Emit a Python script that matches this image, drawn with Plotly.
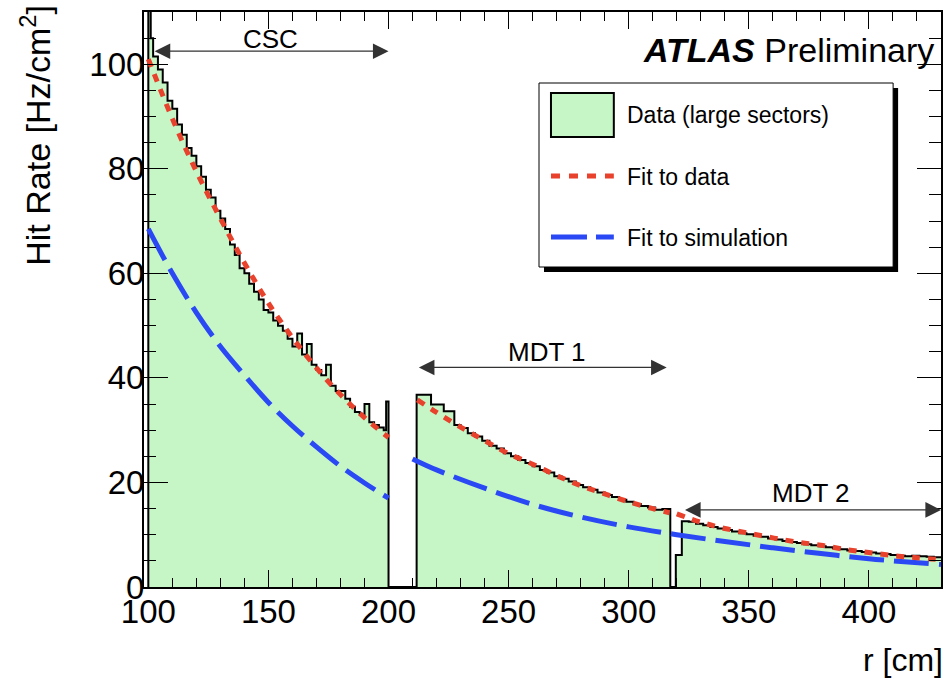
import plotly.graph_objects as go

# ---------------- data ----------------
# histogram: lower bin edges [cm] and hit rate [Hz/cm^2]
bin_lo = [100, 101, 102, 104, 106, 108, 110, 112, 114, 116, 118, 120, 122, 124, 126, 128,
          130, 132, 134, 136, 138, 140, 142, 144, 146, 148, 150, 152, 154, 156, 158, 160,
          162, 164, 166, 168, 170, 172, 174, 176, 178, 180, 182, 184, 186, 188, 190, 192,
          194, 196, 198, 199,
          200,
          211.7, 217.7, 223, 227.4, 230, 233, 236, 239, 242, 245, 248, 251, 254, 257, 260,
          263, 266, 269, 272, 275, 278, 281, 284, 287, 290, 293, 296, 299, 302, 305, 308,
          311, 314,
          317.3, 319.6,
          322.1, 325, 328, 331, 334, 337, 340, 343, 346, 349, 352, 355, 358, 361, 364, 367,
          370, 373, 376, 379, 382, 385, 388, 391, 394, 397, 400, 403, 406, 409, 412, 415,
          418, 421, 424, 427]
hit_rate = [112, 105, 101.5, 99.0, 96.5, 93.0, 91.5, 88.5, 86.5, 84.0, 82.5, 80.5, 78.5, 76.0,
            74.5, 72.0, 70.5, 68.5, 65.5, 63.5, 61.0, 60.0, 58.0, 56.5, 55.0, 53.0, 52.5, 51.0,
            50.0, 49.0, 47.5, 46.0, 48.5, 44.5, 46.5, 42.5, 41.5, 40.5, 42.5, 38.5, 37.5, 37.5,
            36.0, 34.5, 33.5, 33.0, 35.0, 31.5, 31.0, 30.5, 30.0, 35.5,
            0,
            36.8, 34.9, 33.6, 31.0, 30.4, 29.4, 28.8, 28.0, 27.0, 26.5, 25.6, 25.0, 24.3, 23.7,
            23.1, 22.4, 21.9, 21.2, 20.7, 20.2, 19.5, 19.1, 18.6, 18.1, 17.6, 17.2, 16.7, 16.3,
            15.9, 15.5, 15.2, 14.8, 14.9,
            0, 6.1,
            12.6, 12.5, 12.1, 11.8, 11.5, 11.2, 10.9, 10.6, 10.3, 10.1, 9.8, 9.6, 9.3, 9.1, 8.8,
            8.6, 8.4, 8.2, 8.0, 7.8, 7.6, 7.4, 7.2, 7.0, 6.9, 6.7, 6.6, 6.4, 6.3, 6.1, 6.0, 5.9,
            6.0, 5.9, 5.8, 5.7]
r_max = 430

# fit to data (three detector regions)
fit_data_csc_r = [100, 110, 120, 130, 140, 150, 160, 170, 180, 190, 200]
fit_data_csc_v = [101, 89.6, 79.5, 70.5, 62.0, 54.3, 47.7, 41.9, 36.8, 32.4, 28.6]
fit_data_mdt1_r = [212, 220, 230, 240, 250, 260, 270, 280, 290, 300, 310, 317]
fit_data_mdt1_v = [35.8, 33.4, 30.6, 28.0, 25.5, 23.5, 21.3, 19.4, 17.8, 16.3, 15.0, 14.2]
fit_data_mdt2_r = [320, 330, 340, 350, 360, 370, 380, 390, 400, 410, 420, 430]
fit_data_mdt2_v = [14.0, 12.4, 11.2, 10.3, 9.4, 8.6, 8.0, 7.2, 6.6, 6.0, 5.6, 5.2]

# fit to simulation
fit_sim_csc_r = [100, 110, 120, 130, 140, 150, 160, 170, 180, 190, 200]
fit_sim_csc_v = [68.5, 60.0, 52.5, 46.0, 40.5, 35.3, 30.8, 26.8, 23.1, 19.9, 17.0]
fit_sim_mdt_r = [210, 220, 240, 260, 280, 300, 320, 340, 360, 380, 400, 430]
fit_sim_mdt_v = [24.5, 22.4, 18.9, 15.8, 13.4, 11.5, 10.0, 8.7, 7.5, 6.4, 5.4, 4.3]

# region labels / arrows
regions = ["CSC", "MDT 1", "MDT 2"]
region_lo = [102, 212, 322.8]
region_hi = [200, 315.8, 430]
region_arrow_y = [102.5, 42, 14.75]
region_text_x = [151, 266, 376]
region_text_y = [104.8, 45, 18]

legend_labels = ["Data (large sectors)", "Fit to data", "Fit to simulation"]

# ---------------- styles ----------------
FONT = "Liberation Sans, Arial, Helvetica, sans-serif"
GREEN = "#c6f6c6"
RED = "#e8412c"
BLUE = "#2b48f5"

fig = go.Figure()

hx = [bin_lo[0]] + bin_lo + [r_max]
hy = [0] + hit_rate + [hit_rate[-1]]
fig.add_trace(go.Scatter(x=hx, y=hy, mode="lines", line=dict(color="black", width=2, shape="hv"),
                         fill="tozeroy", fillcolor=GREEN, name=legend_labels[0],
                         showlegend=False, hoverinfo="skip"))

for rr, vv in [(fit_sim_csc_r, fit_sim_csc_v), (fit_sim_mdt_r, fit_sim_mdt_v)]:
    fig.add_trace(go.Scatter(x=rr, y=vv, mode="lines",
                             line=dict(color=BLUE, width=5, dash="35px,10px", shape="spline"),
                             name=legend_labels[2], showlegend=False))

for rr, vv in [(fit_data_csc_r, fit_data_csc_v), (fit_data_mdt1_r, fit_data_mdt1_v),
               (fit_data_mdt2_r, fit_data_mdt2_v)]:
    fig.add_trace(go.Scatter(x=rr, y=vv, mode="lines",
                             line=dict(color=RED, width=5, dash="8px,8px", shape="spline"),
                             name=legend_labels[1], showlegend=False))

# plot area in pixels
L, R, T, B = 144, 943, 12, 587
W, H = 945, 687
def px(x):
    return (x - L) / (R - L)
def py(y):
    return (B - y) / (B - T)

annotations = []
for name, lo, hi, ay, tx, ty in zip(regions, region_lo, region_hi, region_arrow_y,
                                    region_text_x, region_text_y):
    annotations.append(dict(x=hi, y=ay, ax=lo, ay=ay, xref="x", yref="y", axref="x", ayref="y",
                            text="", showarrow=True, arrowhead=2, arrowside="end+start",
                            arrowsize=2.4, arrowwidth=1.3, arrowcolor="#333333"))
    annotations.append(dict(x=tx, y=ty, xref="x", yref="y", text=name, showarrow=False,
                            font=dict(family=FONT, size=26, color="black"),
                            xanchor="center", yanchor="middle"))

annotations.append(dict(x=px(938), y=py(50), xref="paper", yref="paper",
                        text="<b><i>ATLAS</i></b> Preliminary", showarrow=False,
                        xanchor="right", yanchor="middle",
                        font=dict(family=FONT, size=34, color="black")))
annotations.append(dict(x=px(947), y=py(660), xref="paper", yref="paper", text="r [cm]",
                        showarrow=False, xanchor="right", yanchor="middle",
                        font=dict(family=FONT, size=32, color="black")))
annotations.append(dict(x=px(35), y=py(3), xref="paper", yref="paper",
                        text="Hit Rate [Hz/cm<sup>2</sup>]", textangle=-90,
                        showarrow=False, xanchor="center", yanchor="top",
                        font=dict(family=FONT, size=34, color="black")))

# legend (drawn as box + samples + text)
shapes = []
shapes.append(dict(type="rect", xref="paper", yref="paper", x0=px(545), x1=px(900),
                   y0=py(272), y1=py(88), fillcolor="black", line=dict(width=0), layer="above"))
shapes.append(dict(type="rect", xref="paper", yref="paper", x0=px(540), x1=px(895),
                   y0=py(267), y1=py(83), fillcolor="white", line=dict(color="black", width=1),
                   layer="above"))
shapes.append(dict(type="rect", xref="paper", yref="paper", x0=px(552), x1=px(615),
                   y0=py(137), y1=py(93), fillcolor=GREEN, line=dict(color="black", width=2),
                   layer="above"))
shapes.append(dict(type="line", xref="paper", yref="paper", x0=px(552), x1=px(615),
                   y0=py(176), y1=py(176), line=dict(color=RED, width=5, dash="9px,9px"),
                   layer="above"))
shapes.append(dict(type="line", xref="paper", yref="paper", x0=px(552), x1=px(615),
                   y0=py(237), y1=py(237), line=dict(color=BLUE, width=5, dash="36px,9px"),
                   layer="above"))
for lab, yy in zip(legend_labels, [115, 177, 238]):
    annotations.append(dict(x=px(626), y=py(yy), xref="paper", yref="paper", text=lab,
                            showarrow=False, xanchor="left", yanchor="middle",
                            font=dict(family=FONT, size=23, color="black")))

axis_common = dict(showgrid=False, zeroline=False, showline=True, linecolor="black", linewidth=2,
                   mirror="allticks", ticks="inside", tickcolor="black", tickwidth=1,
                   tickfont=dict(family=FONT, size=33, color="black"))

fig.update_layout(
    width=W, height=H,
    margin=dict(l=L, r=W - R, t=T, b=H - B),
    paper_bgcolor="white", plot_bgcolor="white",
    showlegend=False,
    xaxis=dict(range=[98.2, 430], tick0=100, dtick=50, ticklen=17, ticklabelstandoff=-6,
               minor=dict(dtick=10, tick0=100, ticklen=9, ticks="inside", tickcolor="black",
                          tickwidth=1),
               **axis_common),
    yaxis=dict(range=[0, 110], tick0=0, dtick=20, ticklen=24, ticklabelstandoff=-9,
               minor=dict(dtick=5, tick0=0, ticklen=12, ticks="inside", tickcolor="black",
                          tickwidth=1),
               **axis_common),
    annotations=annotations,
    shapes=shapes,
)

fig.write_html("out.html", config={"displayModeBar": False},
               post_script="document.body.style.margin='0px';document.body.style.padding='0px';")
